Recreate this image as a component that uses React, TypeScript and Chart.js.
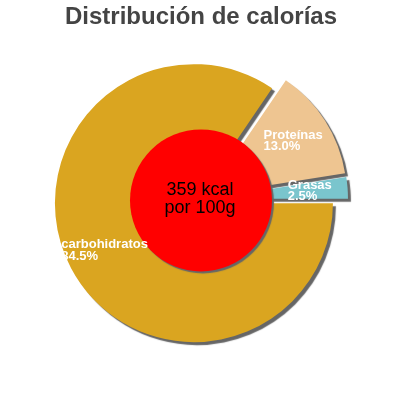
import { Chart, registerables } from "chart.js";
import { useEffect, useRef } from "react";

Chart.register(...registerables);

const categories = ["carbohidratos", "Proteínas", "Grasas"];
const percentages = [84.5, 13.0, 2.5];
const sliceColors = ["#DAA520", "#EEC591", "#7AC5CD"];
const centerLines = ["359 kcal", "por 100g"];

const FONT = "'Liberation Sans', Arial, sans-serif";
const EXPLODE = 8;

const pieDecorations = {
  id: "pieDecorations",
  // push every slice out along its middle angle by the same distance
  afterDatasetsUpdate(chart: any) {
    const meta = chart.getDatasetMeta(0);
    meta.data.forEach((el: any) => {
      const mid = (el.startAngle + el.endAngle) / 2;
      el.x += Math.cos(mid) * EXPLODE;
      el.y += Math.sin(mid) * EXPLODE;
    });
  },
  beforeDatasetsDraw(chart: any) {
    const ctx = chart.ctx;
    ctx.save();
    ctx.shadowColor = "#666666";
    ctx.shadowOffsetX = 3;
    ctx.shadowOffsetY = 3;
    ctx.shadowBlur = 1;
  },
  afterDatasetsDraw(chart: any) {
    const ctx = chart.ctx;
    ctx.restore();

    const area = chart.chartArea;
    const cx = (area.left + area.right) / 2;
    const cy = (area.top + area.bottom) / 2;
    const meta = chart.getDatasetMeta(0);

    // red disc in the middle
    ctx.save();
    ctx.shadowColor = "#666666";
    ctx.shadowOffsetX = 2;
    ctx.shadowOffsetY = 2;
    ctx.shadowBlur = 1;
    ctx.beginPath();
    ctx.arc(cx, cy + 1, 71, 0, Math.PI * 2);
    ctx.fillStyle = "#ff0000";
    ctx.fill();
    ctx.restore();

    ctx.save();
    ctx.fillStyle = "#000000";
    ctx.font = "18px " + FONT;
    ctx.textAlign = "center";
    ctx.textBaseline = "middle";
    ctx.fillText(centerLines[0], cx - 1, cy - 9);
    ctx.fillText(centerLines[1], cx - 1, cy + 9);
    ctx.restore();

    // slice labels
    ctx.save();
    ctx.fillStyle = "#ffffff";
    ctx.font = "bold 13px " + FONT;
    ctx.textAlign = "left";
    ctx.textBaseline = "middle";
    meta.data.forEach((el: any, i: number) => {
      const mid = (el.startAngle + el.endAngle) / 2;
      const r = el.outerRadius * 0.785;
      const lx = cx + Math.cos(mid) * r;
      const ly = cy + Math.sin(mid) * r;
      const lines = [categories[i], percentages[i].toFixed(1) + "%"];
      const w = Math.max(...lines.map((t) => ctx.measureText(t).width));
      ctx.fillText(lines[0], lx - w / 2, ly - 5.8);
      ctx.fillText(lines[1], lx - w / 2, ly + 5.8);
    });
    ctx.restore();
  },
};

const App = () => {
  const chartRef = useRef<Chart | null>(null);
  const canvasRef = useRef<HTMLCanvasElement | null>(null);

  useEffect(() => {
    if (!canvasRef.current) return;
    if (chartRef.current) chartRef.current.destroy();
    const ctx = canvasRef.current.getContext("2d");
    if (!ctx) return;

    chartRef.current = new Chart(ctx, {
      type: "pie",
      data: {
        labels: categories,
        datasets: [
          {
            data: percentages,
            backgroundColor: sliceColors,
            borderWidth: 0,
            radius: 139,
          } as any,
        ],
      },
      options: {
        animation: false,
        responsive: true,
        maintainAspectRatio: false,
        rotation: 90,
        layout: { padding: { left: 2, bottom: 33 } },
        plugins: {
          legend: { display: false },
          tooltip: { enabled: false },
          title: {
            display: true,
            text: "Distribución de calorías",
            color: "#444444",
            font: { family: FONT, size: 24, weight: "bold" },
            padding: { top: 3, bottom: 0 },
          },
        },
      },
      plugins: [pieDecorations],
    });

    return () => {
      if (chartRef.current) chartRef.current.destroy();
    };
  }, []);

  return (
    <div style={{ position: "fixed", left: 0, top: 0, width: 400, height: 400, background: "#fff" }}>
      <canvas ref={canvasRef}></canvas>
    </div>
  );
};

export default App;
